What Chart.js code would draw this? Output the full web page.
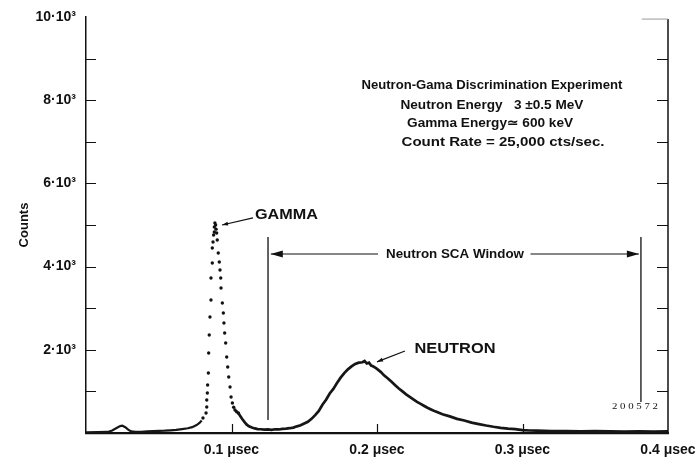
<!DOCTYPE html>
<html>
<head>
<meta charset="utf-8">
<script src="https://cdn.jsdelivr.net/npm/chart.js@4/dist/chart.umd.min.js"></script>
<style>
  html, body { margin: 0; padding: 0; background: #fff; }
  #wrap { width: 697px; height: 460px; position: relative; }
</style>
</head>
<body>
<div id="wrap"><canvas id="chart"></canvas></div>
<script>
// --- data (x in µsec, y in counts) ---
const yTickValues = [2000, 4000, 6000, 8000, 10000];
const yTickLabels = ['2·10³', '4·10³', '6·10³', '8·10³', '10·10³'];
const xTickValues = [0.1, 0.2, 0.3, 0.4];
const xTickLabels = ['0.1 μsec', '0.2 μsec', '0.3 μsec', '0.4 μsec'];

// continuous trace before the gamma peak
const preX = [0.000, 0.008, 0.015, 0.018, 0.021, 0.0235, 0.025, 0.027, 0.029, 0.031, 0.034, 0.038,
              0.042, 0.046, 0.050, 0.054, 0.058, 0.062, 0.066, 0.070, 0.073, 0.076, 0.078, 0.0795];
const preY = [15, 20, 25, 60, 120, 165, 175, 140, 80, 40, 25, 30,
              40, 45, 50, 55, 65, 75, 95, 115, 140, 190, 240, 300];

// gamma peak, sparse dots
const gammaX = [0.0804, 0.0825, 0.0830, 0.0830, 0.0834, 0.0836, 0.0841, 0.0843, 0.0847, 0.0852, 0.0859, 0.0859,
                0.0868, 0.0868, 0.0873, 0.0877, 0.0882, 0.0882, 0.0886, 0.0891, 0.0894, 0.0898, 0.0902, 0.0909,
                0.0916, 0.0921, 0.0926, 0.0928, 0.0937, 0.0944, 0.0948, 0.0953, 0.0960, 0.0967, 0.0974, 0.0981,
                0.0990, 0.0997, 0.1006, 0.1015, 0.1024, 0.1035, 0.1047];
const gammaY = [361, 481, 625, 793, 962, 1154, 1442, 1923, 2356, 2788, 3197, 3726,
                4087, 4447, 4591, 4760, 4832, 4952, 5050, 5000, 4900, 4808, 4639, 4327,
                4111, 3918, 3726, 3486, 3125, 2885, 2644, 2404, 2163, 1827, 1587, 1346,
                1106, 865, 721, 620, 553, 510, 481];

// trace after the gamma peak, incl. neutron hump
const postX = [0.1047, 0.1060, 0.1075, 0.1090, 0.1105, 0.1120, 0.1140, 0.1160, 0.1180, 0.1200, 0.1225, 0.1250,
               0.1275, 0.1300, 0.1325, 0.1350, 0.1375, 0.1400, 0.1425, 0.1450, 0.1475, 0.1500, 0.1525, 0.1550,
               0.1575, 0.1600, 0.1625, 0.1650, 0.1675, 0.1700, 0.1725, 0.1750, 0.1775, 0.1800, 0.1825, 0.1850,
               0.1875, 0.1900, 0.1915, 0.1930, 0.1945, 0.1960, 0.1975, 0.2000, 0.2025, 0.2050, 0.2075, 0.2100,
               0.2125, 0.2150, 0.2175, 0.2200, 0.2225, 0.2250, 0.2275, 0.2300, 0.2325, 0.2350, 0.2375, 0.2400,
               0.2450, 0.2500, 0.2550, 0.2600, 0.2650, 0.2700, 0.2750, 0.2800, 0.2850, 0.2900, 0.2950, 0.3000,
               0.3050, 0.3100, 0.3150, 0.3200, 0.3300, 0.3400, 0.3500, 0.3600, 0.3700, 0.3800, 0.3900, 0.4000];
const postY = [481, 410, 330, 260, 200, 160, 130, 110, 95, 90, 80, 85,
               75, 90, 85, 100, 105, 115, 130, 160, 185, 230, 270, 340,
               430, 530, 680, 800, 950, 1060, 1200, 1330, 1440, 1530, 1600, 1660,
               1690, 1700, 1730, 1670, 1690, 1620, 1600, 1540, 1470, 1380, 1310, 1230,
               1150, 1070, 1000, 930, 870, 810, 750, 700, 650, 600, 560, 520,
               450, 400, 340, 300, 250, 215, 180, 150, 125, 105, 95, 70,
               60, 55, 50, 45, 45, 40, 45, 40, 35, 40, 35, 40];

const toPoints = (xs, ys) => xs.map((x, i) => ({ x: x, y: ys[i] }));

// --- annotation plugin: inward ticks, right axis, labels and arrows ---
const FONT = '"Liberation Sans", Arial, Helvetica, sans-serif';

function fitText(ctx, text, cx, cy, width, font) {
    ctx.font = font;
    const w = ctx.measureText(text).width;
    ctx.save();
    ctx.translate(cx, cy);
    ctx.scale(width / w, 1);
    ctx.textAlign = 'center';
    ctx.textBaseline = 'middle';
    ctx.fillText(text, 0, 0);
    ctx.restore();
}

function arrow(ctx, x1, y1, x2, y2, len, half) {
    ctx.beginPath();
    ctx.moveTo(x1, y1);
    ctx.lineTo(x2, y2);
    ctx.stroke();
    const a = Math.atan2(y2 - y1, x2 - x1);
    ctx.beginPath();
    ctx.moveTo(x2, y2);
    ctx.lineTo(x2 - len * Math.cos(a) + half * Math.sin(a), y2 - len * Math.sin(a) - half * Math.cos(a));
    ctx.lineTo(x2 - len * Math.cos(a) - half * Math.sin(a), y2 - len * Math.sin(a) + half * Math.cos(a));
    ctx.closePath();
    ctx.fill();
}

const annotate = {
    id: 'annotate',
    afterDraw(chart) {
        const ctx = chart.ctx;
        const xs = chart.scales.x, ys = chart.scales.y;
        const area = chart.chartArea;
        const X = v => xs.getPixelForValue(v);
        const Y = v => ys.getPixelForValue(v);
        ctx.save();
        ctx.strokeStyle = '#111';
        ctx.fillStyle = '#111';

        // right axis
        ctx.lineWidth = 1.5;
        ctx.beginPath();
        ctx.moveTo(area.right, area.bottom);
        ctx.lineTo(area.right, Y(9950));
        ctx.stroke();
        ctx.strokeStyle = '#999';
        ctx.lineWidth = 1;
        ctx.beginPath();
        ctx.moveTo(X(0.382), Y(9950));
        ctx.lineTo(area.right, Y(9950));
        ctx.stroke();
        ctx.strokeStyle = '#111';

        // inward tick marks every 1000 counts, both sides
        ctx.lineWidth = 1.2;
        for (let v = 1000; v < 10000; v += 1000) {
            const py = Math.round(Y(v)) + 0.5;
            ctx.beginPath();
            ctx.moveTo(area.left, py); ctx.lineTo(area.left + 10, py);
            ctx.moveTo(area.right, py); ctx.lineTo(area.right - 11, py);
            ctx.stroke();
        }
        // inward ticks on the time axis
        xTickValues.slice(0, 3).forEach(v => {
            const px = Math.round(X(v)) + 0.5;
            ctx.beginPath();
            ctx.moveTo(px, area.bottom); ctx.lineTo(px, area.bottom - 9);
            ctx.stroke();
        });

        // SCA window
        ctx.lineWidth = 1.3;
        ctx.beginPath();
        ctx.moveTo(X(0.1251), Y(4712)); ctx.lineTo(X(0.1251), Y(312));
        ctx.moveTo(X(0.3814), Y(4712)); ctx.lineTo(X(0.3814), Y(745));
        ctx.stroke();
        ctx.lineWidth = 1.2;
        arrow(ctx, X(0.2007), Y(4303), X(0.1270), Y(4303), 12, 3.5);
        arrow(ctx, X(0.3055), Y(4303), X(0.3800), Y(4303), 12, 3.5);
        fitText(ctx, 'Neutron SCA Window', X(0.2536), Y(4303), 138, 'bold 13px ' + FONT);

        // peak labels
        fitText(ctx, 'GAMMA', X(0.1378), Y(5240), 63, 'bold 15px ' + FONT);
        arrow(ctx, X(0.1148), Y(5170), X(0.0935), Y(5000), 6, 2);
        fitText(ctx, 'NEUTRON', X(0.2536), Y(2020), 81, 'bold 15px ' + FONT);
        arrow(ctx, X(0.2192), Y(1970), X(0.2000), Y(1710), 6, 2);

        // experiment notes
        const f = 'bold 13px ' + FONT;
        fitText(ctx, 'Neutron-Gama Discrimination Experiment', X(0.2790), Y(8366), 261, f);
        fitText(ctx, 'Neutron Energy   3 \u00b10.5 MeV', X(0.2790), Y(7885), 183, f);
        fitText(ctx, 'Gamma Energy\u2243 600 keV', X(0.2777), Y(7452), 166, f);
        fitText(ctx, 'Count Rate = 25,000 cts/sec.', X(0.2866), Y(6995), 203, f);

        // plate number
        fitText(ctx, '2 0 0 5 7 2', X(0.3773), Y(625), 46, '9px "Liberation Serif", "DejaVu Serif", serif');
        ctx.restore();
    }
};

new Chart(document.getElementById('chart'), {
    type: 'scatter',
    data: {
        datasets: [
            {
                label: 'trace (pre)',
                data: toPoints(preX, preY),
                showLine: true,
                borderColor: '#161616',
                borderWidth: 2.2,
                pointRadius: 0,
                tension: 0
            },
            {
                label: 'gamma',
                data: toPoints(gammaX, gammaY),
                showLine: false,
                backgroundColor: '#111',
                borderWidth: 0,
                pointRadius: 1.7
            },
            {
                label: 'trace (post)',
                data: toPoints(postX, postY),
                showLine: true,
                borderColor: '#161616',
                borderWidth: 2.7,
                pointRadius: 0,
                tension: 0
            }
        ]
    },
    options: {
        responsive: true,
        maintainAspectRatio: false,
        animation: false,
        events: [],
        layout: { padding: { top: 17, right: 29, left: 0, bottom: 0 } },
        plugins: {
            legend: { display: false },
            tooltip: { enabled: false }
        },
        scales: {
            x: {
                type: 'linear',
                min: 0,
                max: 0.4,
                afterFit: s => { s.height = 27; s.paddingLeft = 0; s.paddingRight = 0; },
                grid: { display: false, drawTicks: false },
                border: { display: true, color: '#111', width: 2.2 },
                ticks: {
                    stepSize: 0.1,
                    padding: 9,
                    color: '#111',
                    font: { family: FONT, size: 14, weight: 'bold' },
                    maxRotation: 0,
                    callback: v => {
                        const i = xTickValues.findIndex(t => Math.abs(t - v) < 1e-6);
                        return i >= 0 ? xTickLabels[i] : '';
                    }
                }
            },
            y: {
                type: 'linear',
                min: 0,
                max: 10000,
                afterFit: s => { s.width = 86; s.paddingTop = 0; s.paddingBottom = 0; },
                grid: { display: false, drawTicks: false },
                border: { display: true, color: '#111', width: 1.5 },
                title: {
                    display: true,
                    text: 'Counts',
                    color: '#111',
                    font: { family: FONT, size: 13, weight: 'bold' },
                    padding: { top: 17, bottom: 0 }
                },
                ticks: {
                    stepSize: 1000,
                    padding: 10,
                    color: '#111',
                    font: { family: FONT, size: 14, weight: 'bold' },
                    callback: v => {
                        const i = yTickValues.indexOf(v);
                        return i >= 0 ? yTickLabels[i] : '';
                    }
                }
            }
        }
    },
    plugins: [annotate]
});
</script>
</body>
</html>
